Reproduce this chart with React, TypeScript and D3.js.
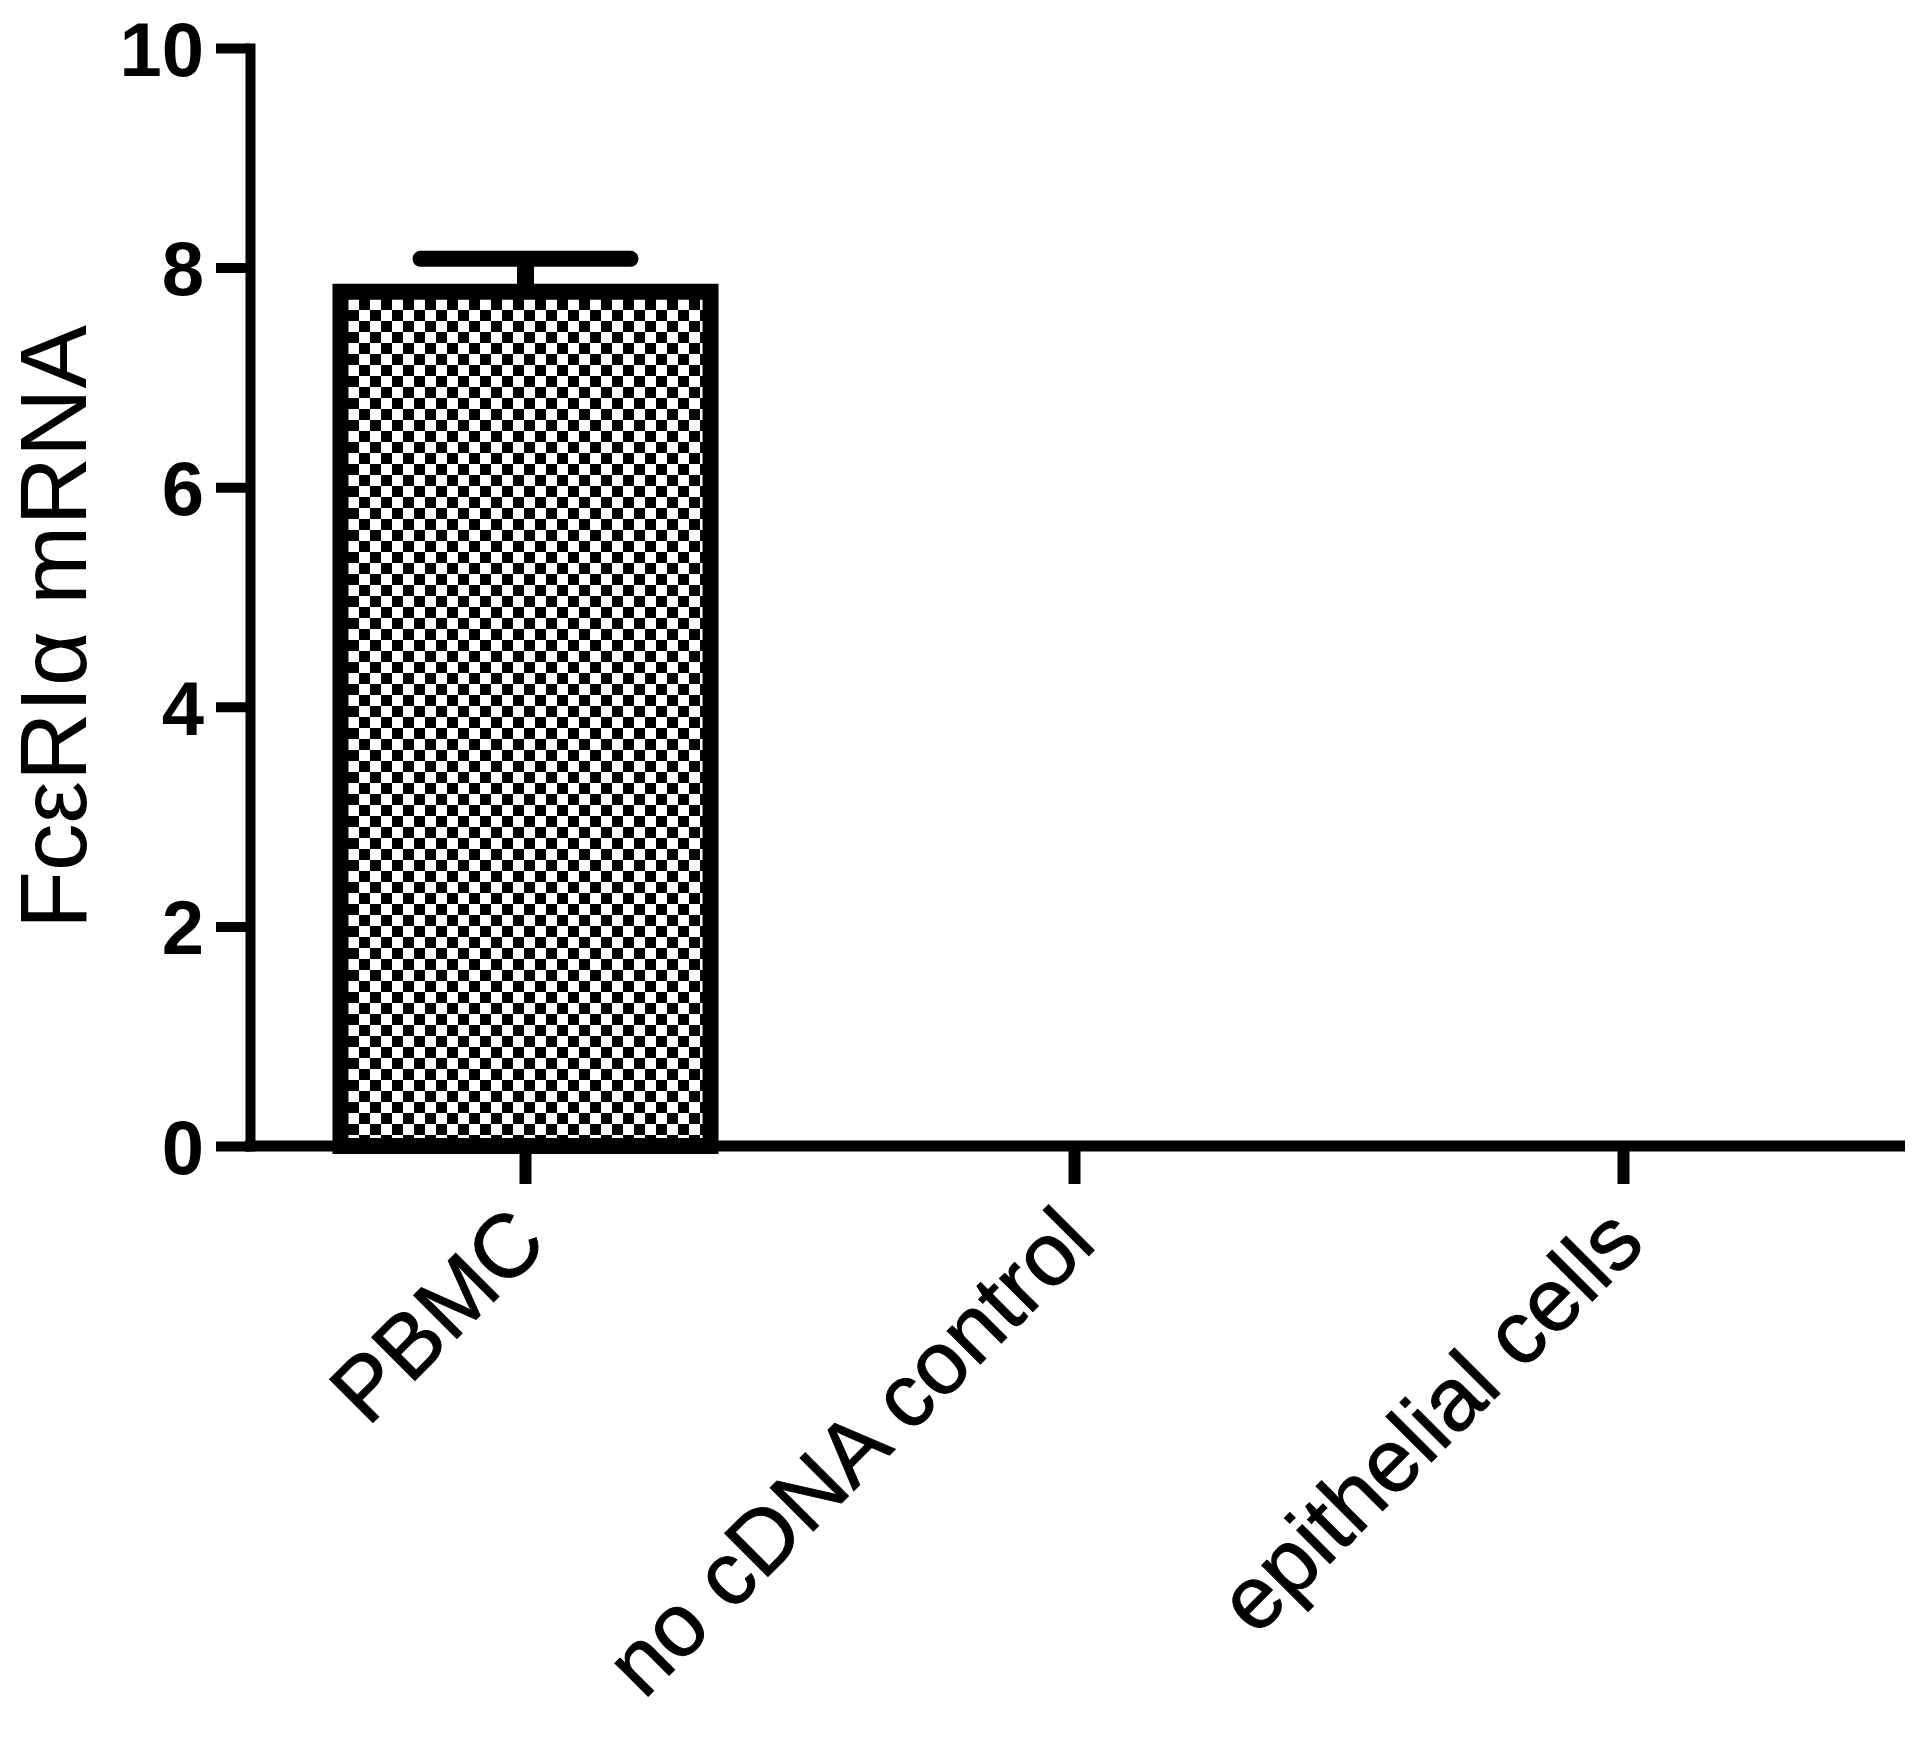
import { useEffect, useRef } from "react";
import * as d3 from "d3";

const categories = ["PBMC", "no cDNA control", "epithelial cells"];
const means = [7.78, 0, 0];
const errors = [0.3, 0, 0];
const yTicks = [0, 2, 4, 6, 8, 10];
const yTitle = "FcεRIα mRNA";

export default function App() {
  const ref = useRef<SVGSVGElement>(null);

  useEffect(() => {
    document.body.style.margin = "0";
    const svg = d3.select(ref.current);
    svg.selectAll("*").remove();

    const width = 1918;
    const height = 1737;
    const font = "Liberation Sans, Arial, sans-serif";

    svg.attr("width", width).attr("height", height);

    const y = d3.scaleLinear().domain([0, 10]).range([1146, 48]);
    const x = d3.scaleBand().domain(categories).range([251, 1898]).padding(0);

    // checkerboard fill
    const defs = svg.append("defs");
    const pat = defs.append("pattern")
      .attr("id", "checker")
      .attr("patternUnits", "userSpaceOnUse")
      .attr("x", 348)
      .attr("y", 299)
      .attr("width", 22)
      .attr("height", 22);
    pat.append("rect").attr("width", 22).attr("height", 22).attr("fill", "#fff");
    pat.append("rect").attr("x", 11).attr("y", 0).attr("width", 11).attr("height", 11).attr("fill", "#000");
    pat.append("rect").attr("x", 0).attr("y", 11).attr("width", 11).attr("height", 11).attr("fill", "#000");

    const data = categories.map((c, i) => ({ cat: c, mean: means[i], err: errors[i] }));
    const barW = x.bandwidth() * 0.674;

    // bars
    svg.append("g")
      .selectAll("rect")
      .data(data.filter(d => d.mean > 0))
      .join("rect")
      .attr("x", d => x(d.cat)! + x.bandwidth() / 2 - barW / 2)
      .attr("y", d => y(d.mean))
      .attr("width", barW)
      .attr("height", d => y(0) - y(d.mean))
      .attr("fill", "url(#checker)")
      .attr("stroke", "#000")
      .attr("stroke-width", 16);

    // error bars
    const eg = svg.append("g").selectAll("g")
      .data(data.filter(d => d.err > 0))
      .join("g")
      .attr("transform", d => `translate(${x(d.cat)! + x.bandwidth() / 2},0)`);
    eg.append("line")
      .attr("x1", 0).attr("x2", 0)
      .attr("y1", d => y(d.mean))
      .attr("y2", d => y(d.mean + d.err))
      .attr("stroke", "#000")
      .attr("stroke-width", 17);
    eg.append("line")
      .attr("x1", -105).attr("x2", 105)
      .attr("y1", d => y(d.mean + d.err))
      .attr("y2", d => y(d.mean + d.err))
      .attr("stroke", "#000")
      .attr("stroke-width", 16)
      .attr("stroke-linecap", "round");

    // y axis
    const ya = svg.append("g")
      .attr("transform", "translate(250,0)")
      .call(d3.axisLeft(y).tickValues(yTicks).tickSize(34).tickSizeOuter(0).tickPadding(12));
    ya.select(".domain")
      .attr("stroke", "#000")
      .attr("stroke-width", 10)
      .attr("stroke-linecap", "square");
    ya.selectAll(".tick line").attr("stroke", "#000").attr("stroke-width", 10);
    ya.selectAll(".tick text")
      .attr("font-family", font)
      .attr("font-weight", "bold")
      .attr("font-size", 76)
      .attr("fill", "#000")
      .attr("dy", "0.36em");

    // x axis
    const xa = svg.append("g")
      .attr("transform", `translate(0,${y(0)})`)
      .call(d3.axisBottom(x).tickSize(38).tickSizeOuter(0));
    xa.select(".domain").remove();
    xa.append("line")
      .attr("x1", 245).attr("x2", 1905)
      .attr("y1", 0).attr("y2", 0)
      .attr("stroke", "#000")
      .attr("stroke-width", 11);
    xa.selectAll(".tick line").attr("stroke", "#000").attr("stroke-width", 12);
    xa.selectAll(".tick text")
      .attr("font-family", font)
      .attr("font-size", 89)
      .attr("fill", "#000")
      .attr("stroke", "#000")
      .attr("stroke-width", 1)
      .attr("text-anchor", "end")
      .attr("x", 0)
      .attr("y", 0)
      .attr("dy", 0)
      .attr("transform", "translate(24,100) rotate(-45)");

    // y title
    svg.append("text")
      .attr("transform", "translate(86,627) rotate(-90)")
      .attr("text-anchor", "middle")
      .attr("font-family", font)
      .attr("font-size", 95)
      .attr("fill", "#000")
      .text(yTitle);
  }, []);

  return <svg ref={ref} style={{ display: "block" }}></svg>;
}
